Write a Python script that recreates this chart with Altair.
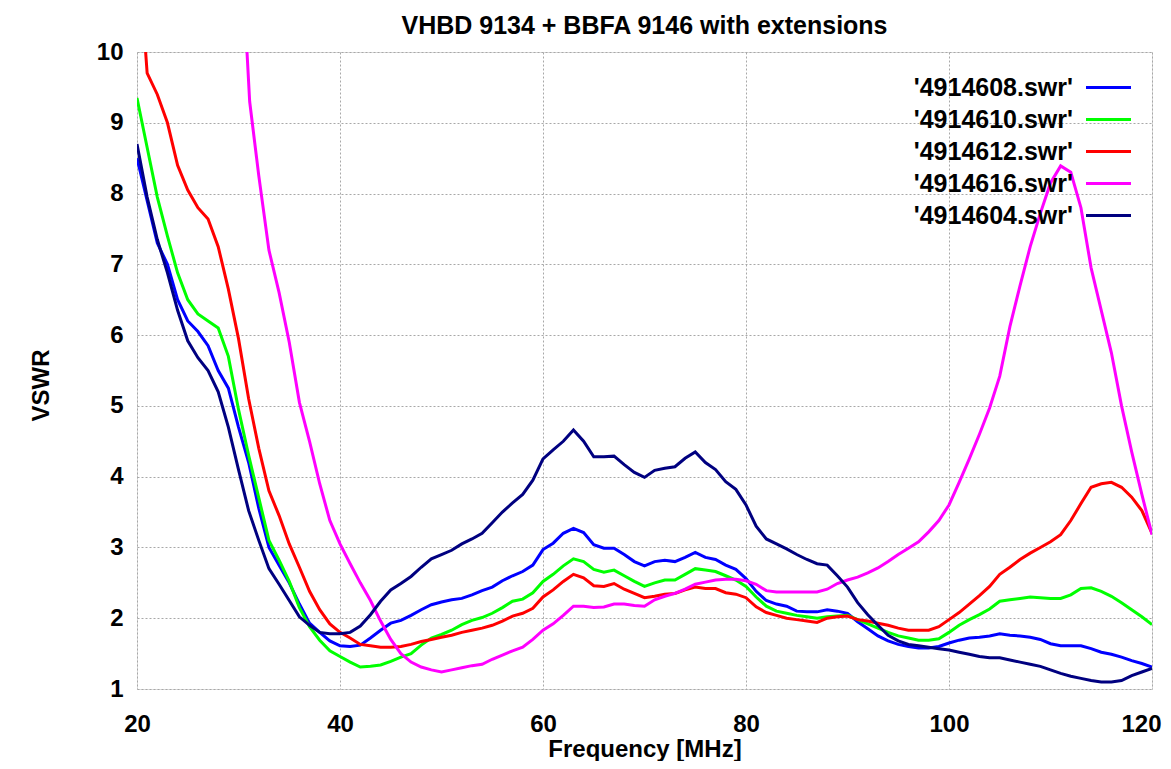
import altair as alt
import pandas as pd

freq_full = list(range(20, 121))

vswr_08 = [8.5, 7.9, 7.3, 7.0, 6.5, 6.2, 6.05, 5.85, 5.5, 5.25,
           4.7, 4.2, 3.55, 3.0, 2.75, 2.5, 2.2, 1.93, 1.8, 1.68,
           1.61, 1.60, 1.62, 1.72, 1.83, 1.93, 1.97, 2.04, 2.12, 2.19,
           2.23, 2.26, 2.28, 2.33, 2.39, 2.44, 2.53, 2.6, 2.66, 2.75,
           2.97, 3.06, 3.2, 3.27, 3.21, 3.04, 2.99, 2.99, 2.9, 2.8,
           2.74, 2.8, 2.82, 2.8, 2.86, 2.93, 2.86, 2.83, 2.75, 2.69,
           2.56, 2.38, 2.25, 2.2, 2.17, 2.1, 2.09, 2.09, 2.12, 2.1,
           2.07, 1.95, 1.85, 1.75, 1.68, 1.63, 1.6, 1.58, 1.58, 1.6,
           1.65, 1.69, 1.72, 1.73, 1.75, 1.78, 1.76, 1.75, 1.73, 1.70,
           1.64, 1.61, 1.61, 1.61, 1.57, 1.52, 1.49, 1.45, 1.40, 1.36,
           1.31]

vswr_10 = [9.35, 8.65, 7.95, 7.4, 6.88, 6.5, 6.3, 6.2, 6.1, 5.7,
           4.95, 4.3, 3.7, 3.1, 2.82, 2.52, 2.15, 1.88, 1.69, 1.54,
           1.46, 1.38, 1.31, 1.32, 1.34, 1.39, 1.45, 1.5, 1.62, 1.72,
           1.77, 1.83, 1.91, 1.97, 2.01, 2.07, 2.15, 2.24, 2.27, 2.36,
           2.52, 2.62, 2.74, 2.84, 2.8, 2.69, 2.65, 2.68, 2.6, 2.52,
           2.45, 2.5, 2.54, 2.54, 2.62, 2.7, 2.68, 2.66, 2.6, 2.54,
           2.45, 2.3, 2.17, 2.1, 2.07, 2.04, 2.02, 2.0, 2.02, 2.03,
           2.04, 1.98, 1.92, 1.86, 1.8, 1.75, 1.72, 1.69, 1.69, 1.71,
           1.8, 1.9, 1.98, 2.05, 2.13, 2.24, 2.26, 2.28, 2.3, 2.29,
           2.28, 2.28, 2.33, 2.42, 2.43, 2.38, 2.31, 2.22, 2.12, 2.02,
           1.91]

vswr_04 = [8.7, 7.95, 7.35, 6.88, 6.35, 5.92, 5.68, 5.5, 5.2, 4.7,
           4.1, 3.52, 3.1, 2.7, 2.48, 2.25, 2.02, 1.9, 1.8, 1.78,
           1.78, 1.8, 1.89, 2.05, 2.24, 2.4, 2.49, 2.59, 2.72, 2.84,
           2.9, 2.96, 3.05, 3.12, 3.2, 3.35, 3.5, 3.63, 3.75, 3.95,
           4.25, 4.38, 4.5, 4.66, 4.5, 4.28, 4.28, 4.29, 4.17, 4.06,
           3.99, 4.09, 4.12, 4.14, 4.26, 4.35, 4.2, 4.1, 3.93, 3.82,
           3.6, 3.3, 3.12, 3.05, 2.98, 2.9, 2.83, 2.77, 2.75, 2.6,
           2.44, 2.22, 2.05, 1.9, 1.76, 1.68, 1.63, 1.61, 1.59, 1.57,
           1.55, 1.52, 1.49, 1.46, 1.44, 1.44, 1.41, 1.38, 1.35, 1.32,
           1.27, 1.22, 1.18, 1.15, 1.12, 1.1, 1.1, 1.12, 1.19, 1.24,
           1.29]

freq_12 = [20.8] + list(range(21, 121))
vswr_12 = [10.1, 9.7, 9.4, 9.0, 8.4, 8.05, 7.8, 7.64, 7.25, 6.65,
           5.95, 5.1, 4.4, 3.8, 3.45, 3.05, 2.72, 2.38, 2.12, 1.92,
           1.8, 1.72, 1.63, 1.61, 1.59, 1.59, 1.6, 1.63, 1.67, 1.7,
           1.73, 1.76, 1.8, 1.83, 1.86, 1.9, 1.96, 2.03, 2.07, 2.14,
           2.3, 2.4, 2.52, 2.62, 2.57, 2.46, 2.45, 2.49, 2.41, 2.35,
           2.29, 2.31, 2.34, 2.35, 2.4, 2.44, 2.42, 2.42, 2.36, 2.34,
           2.29, 2.16, 2.08, 2.04, 2.0, 1.98, 1.96, 1.94, 2.0, 2.02,
           2.03, 1.98, 1.96, 1.93, 1.9, 1.86, 1.83, 1.83, 1.83, 1.88,
           1.98, 2.08, 2.2, 2.32, 2.45, 2.62, 2.72, 2.83, 2.92, 3.0,
           3.08, 3.18, 3.38, 3.62, 3.85, 3.9, 3.92, 3.85, 3.71, 3.52,
           3.2]

freq_16 = [30.8, 31.1] + list(range(32, 121))
vswr_16 = [10.1, 9.3,
           8.25, 7.2, 6.6, 5.9, 5.05, 4.5, 3.9, 3.38,
           3.05, 2.77, 2.5, 2.25, 1.96, 1.7, 1.5, 1.38, 1.31, 1.27,
           1.24, 1.27, 1.3, 1.33, 1.35, 1.42, 1.48, 1.54, 1.59, 1.7,
           1.83, 1.92, 2.04, 2.17, 2.17, 2.15, 2.16, 2.2, 2.2, 2.18,
           2.17, 2.26, 2.31, 2.35, 2.41, 2.48, 2.51, 2.54, 2.55, 2.55,
           2.53, 2.48, 2.39, 2.37, 2.37, 2.37, 2.37, 2.37, 2.41, 2.49,
           2.54, 2.58, 2.64, 2.71, 2.8, 2.9, 2.99, 3.08, 3.22, 3.38,
           3.6, 3.92, 4.25, 4.6, 4.97, 5.42, 6.12, 6.7, 7.25, 7.72,
           8.15, 8.39, 8.3, 7.8, 6.95, 6.35, 5.75, 5.0, 4.35, 3.75,
           3.18]

series_names = ["'4914608.swr'", "'4914610.swr'", "'4914612.swr'",
                "'4914616.swr'", "'4914604.swr'"]
series_colors = ["#0000ff", "#00ff00", "#ff0000", "#ff00ff", "#000080"]

rows = []
for name, fs, vs in [
    (series_names[0], freq_full, vswr_08),
    (series_names[1], freq_full, vswr_10),
    (series_names[2], freq_12, vswr_12),
    (series_names[3], freq_16, vswr_16),
    (series_names[4], freq_full, vswr_04),
]:
    for i, (f, v) in enumerate(zip(fs, vs)):
        rows.append({"series": name, "label": name, "freq": f, "vswr": v, "idx": i})
df = pd.DataFrame(rows)

FONT = "Liberation Sans"
LEG_FS = 25
LEG_ROWPAD = 6
LEG_Y = 23

x_enc = alt.X("freq:Q",
              scale=alt.Scale(domain=[20, 120], nice=False, zero=False),
              axis=alt.Axis(title="Frequency [MHz]", values=[20, 40, 60, 80, 100, 120],
                            format="d", labelFlush=False, labelOverlap=False,
                            labelOffset={"condition": {"test": "datum.value == 120", "value": -11},
                                         "value": 0},
                            grid=True, gridDash=[2, 2], gridColor="#a8a8a8",
                            gridWidth=1, ticks=False, domain=False,
                            labelFont=FONT, labelFontSize=24, labelFontWeight="bold",
                            labelColor="#000", labelPadding=23,
                            titleFont=FONT, titleFontSize=24, titleFontWeight="bold",
                            titleColor="#000", titleBaseline="middle", titleY=60))
y_enc = alt.Y("vswr:Q",
              scale=alt.Scale(domain=[1, 10], nice=False, zero=False),
              axis=alt.Axis(title="VSWR", values=list(range(1, 11)),
                            format="d", labelFlush=False, labelOverlap=False,
                            grid=True, gridDash=[2, 2], gridColor="#a8a8a8",
                            gridWidth=1, ticks=False, domain=False,
                            labelFont=FONT, labelFontSize=24, labelFontWeight="bold",
                            labelColor="#000", labelPadding=14,
                            titleFont=FONT, titleFontSize=24, titleFontWeight="bold",
                            titleColor="#000", titleBaseline="middle",
                            titleX=-96, titleY=333))

lines = alt.Chart(df).mark_line(strokeWidth=3, clip=True).encode(
    x=x_enc,
    y=y_enc,
    color=alt.Color("series:N",
                    scale=alt.Scale(domain=series_names, range=series_colors),
                    sort=series_names,
                    legend=alt.Legend(title=None, orient="none",
                                      legendX=959, legendY=LEG_Y, padding=0,
                                      direction="vertical",
                                      symbolType="M-5,0H5", symbolStrokeWidth=3,
                                      symbolSize=81, rowPadding=LEG_ROWPAD,
                                      labelExpr="''", labelFontSize=LEG_FS,
                                      labelFont=FONT, labelOffset=0)),
    order="idx:Q",
)

labels = alt.Chart(df).mark_point(opacity=0, clip=True).encode(
    x=alt.X("freq:Q"),
    y=alt.Y("vswr:Q"),
    shape=alt.Shape("label:N", sort=series_names,
                    legend=alt.Legend(title=None, orient="none",
                                      legendX=911, legendY=LEG_Y, padding=0,
                                      direction="vertical",
                                      symbolSize=1, symbolOpacity=0,
                                      symbolStrokeWidth=0,
                                      rowPadding=LEG_ROWPAD,
                                      labelFont=FONT, labelFontSize=LEG_FS,
                                      labelFontWeight="bold", labelColor="#000",
                                      labelAlign="right", labelOffset=0,
                                      labelLimit=400)),
)

chart = alt.layer(lines, labels).properties(
    width=1015,
    height=637,
    title=alt.TitleParams("VHBD 9134 + BBFA 9146 with extensions",
                          font=FONT, fontSize=25, fontWeight="bold",
                          color="#000", offset=1),
    autosize=alt.AutoSizeParams(type="none"),
    padding={"left": 129, "top": 44, "right": 10, "bottom": 72},
).configure_view(
    stroke="#000", strokeWidth=2
).configure(background="white")

chart.save("out.html", embed_options={"renderer": "svg", "actions": False})
